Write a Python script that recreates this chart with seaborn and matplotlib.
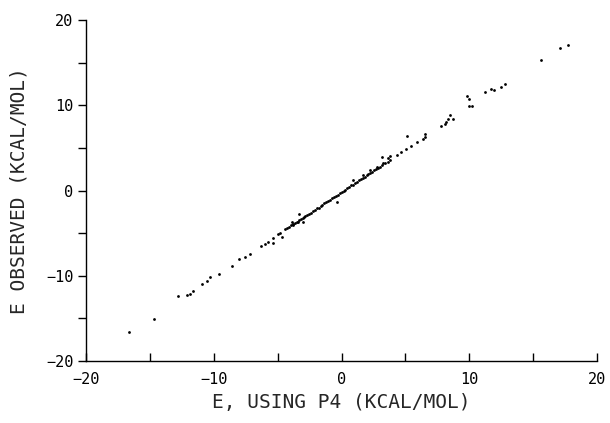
import matplotlib
matplotlib.use("Agg")
import matplotlib.pyplot as plt
import seaborn as sns
import pandas as pd
from matplotlib.ticker import MultipleLocator

# E using P4 (x) vs E observed (y), kcal/mol
x_sparse = [-16.6, -14.7, -12.8, -12.1, -11.9, -11.6, -10.9, -10.5, -10.3, -9.6,
            -8.6, -8.0, -7.55, -7.2, -6.3, -6.0, -5.75, -5.4, -5.35, -4.95,
            -4.8, -4.65, -3.9, -3.8, -3.35, -3.4, -3.0, -2.95, -0.35, 0.87,
            1.7, 2.2, 2.75, 3.15, 3.27, 3.6, 3.8, 4.3, 4.65, 5.05,
            5.15, 5.45, 5.9, 6.4, 6.55, 6.5, 7.8, 8.1, 8.2, 8.35,
            8.5, 8.75, 9.8, 9.95, 9.95, 10.2, 11.2, 11.7, 11.95, 12.5,
            12.75, 15.6, 17.1, 17.7]
y_sparse = [-16.6, -15.1, -12.4, -12.3, -12.1, -11.8, -11.0, -10.6, -10.2, -9.8,
            -8.9, -8.0, -7.75, -7.45, -6.5, -6.3, -6.05, -6.1, -5.6, -5.15,
            -4.95, -5.5, -3.65, -4.0, -2.8, -3.65, -3.65, -3.15, -1.3, 1.25,
            1.85, 2.4, 2.8, 3.95, 3.2, 3.8, 4.05, 4.15, 4.5, 4.85,
            6.45, 5.2, 5.65, 6.1, 6.6, 6.3, 7.55, 7.85, 8.05, 8.35,
            8.85, 8.35, 11.1, 10.7, 9.9, 9.95, 11.6, 11.9, 11.75, 12.2,
            12.45, 15.3, 16.7, 17.1]
x_dense = [-4.4, -4.25, -4.1, -3.95, -3.8, -3.65, -3.5, -3.3, -3.15, -3.0,
           -2.85, -2.7, -2.55, -2.4, -2.25, -2.1, -1.95, -1.8, -1.65, -1.5,
           -1.35, -1.2, -1.05, -0.9, -0.75, -0.6, -0.45, -0.3, -0.15, 0.0,
           0.15, 0.3, 0.45, 0.6, 0.75, 0.9, 1.05, 1.2, 1.35, 1.5,
           1.65, 1.8, 1.95, 2.1, 2.25, 2.4, 2.55, 2.7, 2.85, 3.0,
           3.2, 3.4, 3.6, 3.8]
y_dense = [-4.55, -4.4, -4.3, -4.1, -3.95, -3.85, -3.65, -3.5, -3.3, -3.2,
           -3.0, -2.9, -2.7, -2.6, -2.4, -2.3, -2.1, -2.0, -1.8, -1.7,
           -1.5, -1.4, -1.2, -1.1, -0.9, -0.8, -0.6, -0.5, -0.3, -0.2,
           0.0, 0.1, 0.3, 0.4, 0.6, 0.7, 0.9, 1.0, 1.2, 1.3,
           1.5, 1.6, 1.8, 1.9, 2.1, 2.2, 2.4, 2.5, 2.7, 2.8,
           3.0, 3.2, 3.4, 3.6]

df = pd.DataFrame({"x": x_sparse + x_dense, "y": y_sparse + y_dense})

sns.set_style("ticks")
plt.rcParams['font.family'] = ['DejaVu Sans Mono', 'DejaVu Sans']

fig = plt.figure(figsize=(6.10, 4.23), dpi=100)
ax = fig.add_axes([0.141, 0.1466, 0.838, 0.806])
sns.scatterplot(data=df, x="x", y="y", ax=ax, color="black", s=4,
                marker="o", edgecolor="black", linewidth=0)

ax.set_xlim(-20, 20)
ax.set_ylim(-20, 20)
ax.xaxis.set_major_locator(MultipleLocator(10))
ax.xaxis.set_minor_locator(MultipleLocator(5))
ax.yaxis.set_major_locator(MultipleLocator(10))
ax.yaxis.set_minor_locator(MultipleLocator(5))
ax.tick_params(axis="x", which="both", direction="in", length=6, width=1,
               labelsize=11, pad=8, colors="black")
ax.tick_params(axis="y", which="both", direction="out", length=6, width=1,
               labelsize=11, pad=3, colors="black")
for s in ["top", "right"]:
    ax.spines[s].set_visible(False)
for s in ["left", "bottom"]:
    ax.spines[s].set_color("black")
    ax.spines[s].set_linewidth(1)

ax.set_xlabel("E, USING P4 (KCAL/MOL)", fontsize=14, labelpad=4)
ax.set_ylabel("E OBSERVED (KCAL/MOL)", fontsize=14, labelpad=13)

fig.savefig("out.png", dpi=100, facecolor="white")
